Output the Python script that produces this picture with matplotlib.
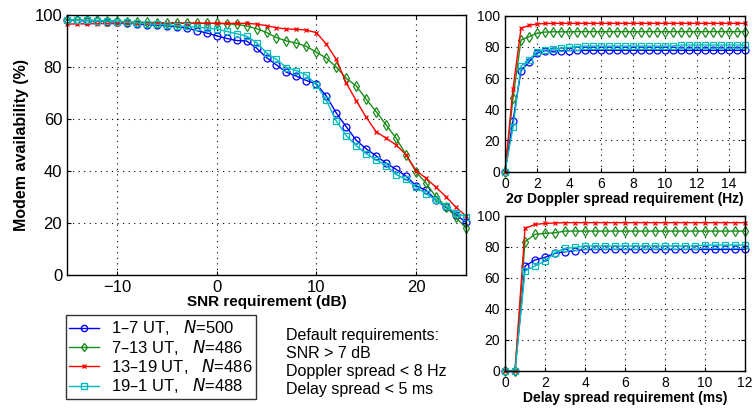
import matplotlib
matplotlib.use('Agg')
import matplotlib.pyplot as plt
from matplotlib.lines import Line2D
import numpy as np

plt.rcParams['font.family'] = ['Liberation Sans', 'DejaVu Sans']

labels = ['1\u20137 UT,   $\\it{N}$=500', '7\u201313 UT,   $\\it{N}$=486',
          '13\u201319 UT,   $\\it{N}$=486', '19\u20131 UT,   $\\it{N}$=488']
colors = ['#0000ff', '#1a8c1a', '#ff0000', '#00bcbc']
markers = ['o', 'd', 'x', 's']

# SNR requirement (dB), 1 dB steps
snr = np.arange(-15, 26)
snr_avail = [
    [98.0, 97.9, 97.8, 97.7, 97.5, 97.3, 97.0, 96.6, 96.3, 96.1, 95.9, 95.5, 95.0, 94.0,
     93.1, 92.0, 91.0, 90.2, 90.0, 87.3, 83.6, 80.8, 78.0, 76.5, 74.8, 73.5, 68.8, 62.3,
     57.0, 51.8, 48.5, 45.8, 43.0, 40.6, 38.0, 34.3, 32.6, 28.8, 26.0, 23.2, 20.2],
    [98.2, 98.1, 98.0, 97.9, 97.8, 97.6, 97.4, 97.3, 97.2, 97.1, 97.0, 97.0, 96.9, 96.9,
     96.8, 96.8, 96.6, 96.4, 95.8, 94.7, 93.3, 91.3, 90.0, 89.2, 87.9, 85.7, 83.4, 80.0,
     75.6, 72.7, 67.6, 62.8, 57.7, 52.6, 46.2, 39.6, 35.3, 30.0, 26.3, 22.2, 18.0],
    [96.5, 96.6, 96.6, 96.7, 96.7, 96.7, 96.8, 96.8, 96.8, 96.8, 96.8, 96.8, 96.8, 96.8,
     96.8, 96.8, 96.8, 96.8, 96.8, 96.5, 95.9, 95.1, 94.6, 94.5, 94.2, 93.2, 88.8, 82.9,
     73.8, 67.0, 60.6, 55.1, 52.6, 50.0, 46.2, 40.1, 37.2, 33.7, 30.1, 26.0, 22.7],
    [98.1, 98.0, 97.9, 97.8, 97.7, 97.5, 97.2, 96.9, 96.6, 96.4, 96.2, 95.9, 95.6, 95.3,
     95.0, 94.6, 93.7, 92.8, 91.9, 89.4, 85.4, 82.9, 79.8, 78.6, 76.9, 73.2, 67.2, 59.2,
     53.6, 49.7, 46.6, 44.3, 42.1, 38.6, 36.8, 33.7, 31.3, 28.7, 26.5, 23.8, 22.5],
]

# 2 sigma Doppler spread requirement (Hz), 0.5 Hz steps
doppler = np.arange(0, 15.01, 0.5)
dop_avail = [
    [0, 32.7, 64.7, 70.5, 75.9, 77.6, 77.2, 77.5, 77.6, 77.7, 77.7, 77.8, 77.8, 77.8, 77.8,
     77.8, 77.8, 77.8, 77.8, 77.8, 77.8, 77.8, 77.8, 77.8, 77.8, 77.8, 77.8, 77.8, 77.8,
     77.8, 77.8],
    [0, 47.4, 84.4, 86.5, 88.7, 89.5, 89.7, 89.7, 89.7, 89.8, 89.8, 89.8, 89.8, 89.8, 89.8,
     89.8, 89.8, 89.8, 89.8, 89.8, 89.8, 89.8, 89.8, 89.8, 89.8, 89.8, 89.8, 89.8, 89.8,
     89.8, 89.8],
    [0, 53.0, 91.9, 93.8, 94.7, 95.0, 95.1, 95.1, 95.1, 95.1, 95.1, 95.1, 95.1, 95.1, 95.1,
     95.1, 95.1, 95.1, 95.1, 95.1, 95.1, 95.1, 95.1, 95.1, 95.1, 95.1, 95.1, 95.1, 95.1,
     95.1, 95.1],
    [0, 28.4, 67.7, 71.6, 76.9, 78.0, 78.6, 79.2, 79.7, 80.0, 80.5, 80.5, 80.5, 80.5, 80.5,
     80.5, 80.5, 80.5, 80.5, 80.5, 80.5, 80.6, 81.2, 81.2, 81.2, 81.2, 81.2, 81.2, 81.2,
     81.2, 81.2],
]

# Delay spread requirement (ms), 0.5 ms steps
delay = np.arange(0, 12.01, 0.5)
del_avail = [
    [0, 0, 67.6, 71.5, 73.2, 75.8, 76.8, 77.5, 78.3, 78.3, 78.3, 78.3, 78.3, 78.3, 78.3,
     78.3, 78.3, 78.3, 78.3, 78.3, 78.3, 78.3, 78.3, 78.3, 78.3],
    [0, 0, 83.3, 88.0, 88.6, 89.0, 90.1, 90.1, 90.1, 90.1, 90.1, 90.1, 90.1, 90.1, 90.1,
     90.1, 90.1, 90.1, 90.1, 90.1, 90.1, 90.1, 90.1, 90.1, 90.1],
    [0, 0, 91.8, 94.4, 95.0, 95.3, 95.5, 95.5, 95.5, 95.5, 95.5, 95.5, 95.5, 95.5, 95.5,
     95.5, 95.5, 95.5, 95.5, 95.5, 95.5, 95.5, 95.5, 95.5, 95.5],
    [0, 0, 64.4, 67.6, 70.8, 76.2, 79.0, 79.6, 80.5, 80.5, 80.5, 80.5, 80.5, 80.5, 80.5,
     80.5, 80.5, 80.5, 80.5, 80.5, 81.1, 81.1, 81.1, 81.1, 81.1],
]

msize = {'o': 5, 'd': 5, 'x': 3.5, 's': 4.5}


def style_axes(ax, fs):
    ax.grid(True, color='black', linestyle=(0, (1, 4)), linewidth=0.8)
    ax.tick_params(direction='in', length=3, labelsize=fs, top=True, right=True)
    for s in ax.spines.values():
        s.set_linewidth(1.0)


def draw(ax, x, ys):
    for y, c, m in zip(ys, colors, markers):
        ax.plot(x, y, color=c, marker=m, markersize=msize[m], markerfacecolor='none',
                markeredgewidth=0.9, linewidth=1.0, clip_on=False)


fig = plt.figure(figsize=(7.52, 4.12), dpi=100)

ax = fig.add_axes([67 / 752, 1 - 275 / 412, 399 / 752, 260 / 412])
draw(ax, snr, snr_avail)
ax.set_xlim(-15, 25)
ax.set_ylim(0, 100)
ax.set_xticks([-10, 0, 10, 20])
ax.set_yticks(range(0, 101, 20))
style_axes(ax, 12)
ax.set_xlabel('SNR requirement (dB)', fontsize=11, fontweight='bold', labelpad=0)
ax.set_ylabel('Modem availability (%)', fontsize=11.5, fontweight='bold', labelpad=4)

ax2 = fig.add_axes([505 / 752, 1 - 171.7 / 412, 240 / 752, 156 / 412])
draw(ax2, doppler, dop_avail)
ax2.set_xlim(0, 15)
ax2.set_ylim(0, 100)
ax2.set_xticks(range(0, 15, 2))
ax2.set_yticks(range(0, 101, 20))
style_axes(ax2, 10)
ax2.set_xlabel('2\u03c3 Doppler spread requirement (Hz)', fontsize=10, fontweight='bold',
               labelpad=1)

ax3 = fig.add_axes([505 / 752, 1 - 371 / 412, 240 / 752, 155.3 / 412])
draw(ax3, delay, del_avail)
ax3.set_xlim(0, 12)
ax3.set_ylim(0, 100)
ax3.set_xticks(range(0, 13, 2))
ax3.set_yticks(range(0, 101, 20))
style_axes(ax3, 10)
ax3.set_xlabel('Delay spread requirement (ms)', fontsize=10, fontweight='bold', labelpad=1)

handles = [Line2D([0], [0], color=c, marker=m, markersize=msize[m] - 0.5,
                  markerfacecolor='none', linewidth=1.0) for c, m in zip(colors, markers)]
leg = fig.legend(handles, labels, loc='upper left', bbox_to_anchor=(66 / 752, 1 - 315 / 412),
                 fontsize=12, frameon=True, fancybox=False, edgecolor='black',
                 handlelength=1.8, handletextpad=0.7, labelspacing=0.02, borderpad=0.2,
                 borderaxespad=0)
leg.get_frame().set_linewidth(1.0)

fig.text(286 / 752, 1 - 328 / 412,
         'Default requirements:\nSNR > 7 dB\nDoppler spread < 8 Hz\nDelay spread < 5 ms',
         fontsize=11.5, va='top', ha='left', linespacing=1.24)

fig.savefig('out.png', dpi=100)
